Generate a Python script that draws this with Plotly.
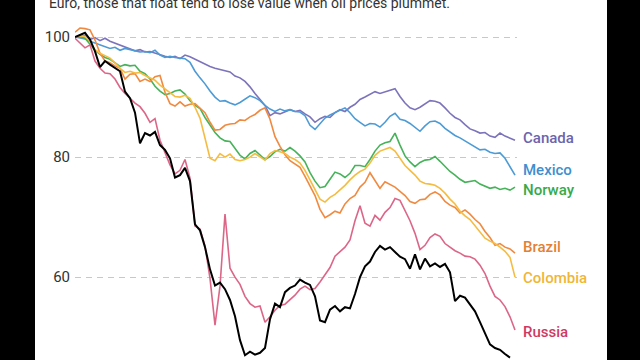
import plotly.graph_objects as go

# Index-based time axis (weekly-ish samples, no visible x labels)
canada = [100.0, 100.2, 100.3, 99.6, 99.9, 99.4, 99.8, 99.3, 99.0, 98.7, 98.4, 98.0, 97.7, 97.9, 97.5, 97.6, 97.3, 97.0,
          96.8, 96.6, 96.8, 96.4, 97.0, 96.7, 96.3, 95.8, 95.4, 95.1, 94.8, 94.6, 94.3, 94.2, 93.5, 93.2, 92.6, 91.7,
          90.6, 89.5, 88.6, 86.9, 87.4, 87.2, 87.6, 87.9, 87.6, 87.8, 87.2, 86.7, 85.8, 86.4, 86.8, 86.6, 87.4, 87.9,
          87.6, 88.3, 88.8, 89.6, 90.0, 90.4, 90.9, 90.6, 90.9, 91.2, 91.4, 90.1, 89.0, 88.2, 87.9, 88.3, 88.9, 89.4,
          89.3, 89.0, 88.2, 87.3, 86.6, 86.2, 85.4, 84.7, 84.4, 84.0, 84.1, 83.5, 83.3, 84.0, 83.5, 83.1, 82.8]
mexico = [100.0, 99.9, 99.7, 99.3, 99.0, 98.7, 98.4, 98.1, 98.3, 97.8, 98.1, 97.9, 97.7, 97.5, 97.6, 97.4, 97.8, 97.0,
          96.6, 96.8, 96.6, 96.5, 96.4, 95.8, 94.3, 93.2, 92.2, 91.0, 90.0, 89.3, 89.4, 89.0, 88.7, 89.1, 89.7, 90.2,
          89.9, 89.4, 88.6, 88.0, 87.6, 88.0, 87.7, 87.9, 87.6, 87.5, 86.9, 85.3, 84.6, 85.6, 86.5, 87.0, 87.4, 87.8,
          88.2, 87.4, 86.4, 85.8, 85.2, 85.6, 85.5, 85.0, 85.8, 86.8, 87.3, 86.3, 86.1, 85.6, 84.9, 84.3, 85.2, 85.9,
          86.0, 85.6, 84.8, 84.2, 83.6, 83.2, 82.7, 82.1, 81.6, 81.2, 81.3, 80.8, 80.6, 80.7, 79.8, 78.5, 77.0]
norway = [100.0, 100.1, 99.8, 98.8, 97.8, 97.1, 96.6, 96.3, 95.7, 95.1, 95.4, 95.2, 95.3, 94.3, 93.9, 93.0, 91.8, 91.0,
          90.4, 90.6, 91.0, 91.2, 90.5, 89.4, 88.6, 88.1, 86.6, 85.3, 84.1, 83.2, 82.7, 82.6, 81.4, 80.3, 79.7, 80.6,
          81.1, 80.3, 79.6, 80.1, 80.9, 81.3, 81.0, 81.6, 81.0, 80.2, 79.2, 77.4, 76.0, 74.9, 75.1, 76.3, 77.5, 77.2,
          76.6, 77.3, 78.6, 78.6, 78.4, 79.6, 81.0, 82.0, 82.4, 82.6, 84.0, 82.0, 80.2, 79.2, 78.4, 79.1, 79.5, 79.6,
          80.1, 79.3, 78.4, 77.6, 77.0, 76.3, 75.8, 75.9, 76.1, 75.5, 75.1, 74.8, 75.0, 74.6, 74.8, 74.5, 75.0]
brazil = [100.8, 101.5, 101.4, 101.2, 99.5, 97.3, 96.0, 95.7, 95.2, 94.8, 93.0, 93.8, 93.9, 92.6, 93.0, 92.6, 93.4, 93.6,
          90.8, 88.9, 88.5, 89.2, 88.5, 88.8, 88.9, 88.2, 87.4, 85.8, 84.5, 84.6, 85.3, 85.5, 85.6, 86.2, 86.1, 86.7,
          87.1, 87.8, 88.2, 86.3, 83.4, 81.8, 80.4, 79.4, 78.8, 78.3, 76.8, 75.1, 73.6, 71.3, 69.9, 70.4, 71.0, 70.7,
          72.2, 73.1, 73.6, 75.0, 75.8, 77.4, 76.0, 74.8, 75.9, 75.4, 75.0, 74.3, 73.6, 72.6, 72.3, 72.9, 73.0, 73.8,
          74.2, 73.7, 72.6, 72.0, 71.6, 70.7, 71.2, 70.5, 69.6, 68.9, 67.6, 66.6, 65.3, 65.6, 65.0, 64.7, 64.0]
colombia = [100.0, 100.2, 100.1, 99.3, 97.9, 97.3, 96.9, 96.5, 95.7, 94.8, 94.1, 94.3, 94.0, 94.1, 93.6, 93.2, 92.8, 92.0,
            91.4, 90.8, 90.1, 90.0, 90.3, 89.8, 88.3, 86.5, 83.0, 79.8, 79.4, 80.6, 80.0, 80.5, 79.6, 79.4, 79.6, 80.0,
            80.6, 80.0, 79.5, 80.6, 81.1, 80.9, 80.6, 80.0, 79.6, 79.0, 77.8, 76.2, 74.6, 73.0, 72.5, 73.3, 73.8, 74.5,
            75.3, 76.2, 77.0, 77.6, 78.0, 79.0, 80.3, 81.0, 81.3, 81.6, 81.0, 79.8, 78.6, 77.8, 77.0, 76.0, 75.6, 75.5,
            75.3, 74.8, 74.0, 73.0, 72.2, 71.0, 70.2, 69.6, 68.6, 67.6, 66.5, 66.0, 65.6, 65.0, 64.3, 63.3, 60.0]
russia = [99.8, 99.0, 98.2, 98.7, 96.0, 94.8, 94.0, 93.9, 93.0, 91.6, 90.6, 89.8, 89.0, 88.4, 87.3, 85.8, 86.4, 82.8,
          80.8, 78.7, 77.2, 77.8, 79.6, 76.5, 68.5, 68.0, 65.2, 59.8, 52.0, 58.5, 70.5, 61.5, 60.0, 58.8, 56.8, 55.6,
          55.0, 55.2, 52.5, 53.4, 54.5, 55.3, 55.5, 56.2, 57.0, 58.0, 58.5, 57.9, 58.1, 59.2, 60.4, 61.6, 63.5, 64.3,
          65.0, 66.2, 69.4, 71.9, 69.0, 68.5, 70.3, 69.5, 70.8, 71.6, 73.1, 72.8, 71.0, 69.4, 67.3, 64.6, 65.3, 66.6,
          67.2, 66.8, 65.6, 65.0, 64.4, 64.0, 63.5, 63.4, 63.0, 62.0, 60.6, 58.5, 56.8, 56.2, 55.1, 53.4, 51.2]
black_series = [100.0, 100.4, 100.7, 99.6, 97.6, 95.0, 96.0, 95.4, 94.8, 94.3, 90.9, 89.8, 87.4, 82.3, 84.0, 83.6, 84.2,
                82.0, 81.2, 79.8, 76.6, 77.0, 78.2, 76.0, 68.8, 67.8, 65.0, 61.3, 58.6, 59.1, 58.0, 56.2, 53.5, 49.5,
                47.0, 47.6, 47.1, 47.4, 48.2, 53.0, 55.6, 55.0, 57.5, 58.2, 58.6, 59.6, 59.1, 58.7, 56.8, 52.8, 52.5,
                54.6, 55.2, 54.3, 55.0, 54.8, 57.2, 60.0, 61.8, 62.6, 64.2, 65.2, 64.6, 65.0, 64.2, 63.4, 63.0, 61.4,
                63.8, 61.3, 63.1, 61.8, 62.3, 61.7, 62.2, 60.8, 56.0, 56.9, 56.6, 55.4, 54.3, 52.5, 50.6, 48.8, 48.2,
                47.9, 47.2, 46.6]

names = ["Canada", "Mexico", "Norway", "Brazil", "Colombia", "Russia"]
series = [canada, mexico, norway, brazil, colombia, russia]
line_colors = ["#7c74bb", "#4d9bd6", "#46b259", "#f08a40", "#f5bc42", "#dc6688"]
text_colors = ["#6c64ad", "#3d8fd0", "#37aa4b", "#e47f35", "#f0b637", "#cf3a62"]
label_shift = [2, 5, -3, 6, -1, -2]

subtitle = "Euro, those that float tend to lose value when oil prices plummet."
tick_vals = [40, 60, 80, 100]

W, H = 640, 360
L, R = 75, 123
plot_w = W - L - R

fig = go.Figure()
for name, vals, col in zip(names, series, line_colors):
    fig.add_trace(go.Scatter(x=list(range(len(vals))), y=vals, mode="lines", name=name,
                             line=dict(color=col, width=1.6), hoverinfo="skip"))
fig.add_trace(go.Scatter(x=list(range(len(black_series))), y=black_series, mode="lines",
                         line=dict(color="#000000", width=2), hoverinfo="skip"))

for name, vals, col, sh in zip(names, series, text_colors, label_shift):
    fig.add_annotation(x=len(vals) - 1, y=vals[-1], text=name, showarrow=False, xanchor="left",
                       yanchor="middle", xshift=6, yshift=sh,
                       font=dict(family="Roboto", size=15, color=col, weight=500))

fig.add_annotation(xref="paper", yref="paper", x=(47 - L) / plot_w, y=1 - 3 / H, text=subtitle,
                   showarrow=False, xanchor="left", yanchor="middle",
                   font=dict(family="Roboto", size=14, color="#333333"))

# white page area between black side bars
fig.add_shape(type="rect", xref="paper", yref="paper", x0=(35 - L) / plot_w, x1=(607 - L) / plot_w,
              y0=0, y1=1, fillcolor="white", line=dict(width=0), layer="below")

fig.update_layout(
    width=W, height=H, margin=dict(l=L, r=R, t=0, b=0),
    paper_bgcolor="black", plot_bgcolor="rgba(0,0,0,0)", showlegend=False,
    xaxis=dict(range=[0, 88.4], visible=False),
    yaxis=dict(range=[46.2, 106.17], tickvals=tick_vals, showgrid=True, gridcolor="#c8c8c8",
               griddash="6px,5px", gridwidth=1, zeroline=False, showline=False, ticks="",
               ticklabelstandoff=4, tickfont=dict(family="Roboto", size=15, color="#333333")),
)
fig.write_html("out.html", config={"displayModeBar": False, "staticPlot": True},
               post_script="document.body.style.margin='0';document.body.style.background='black';")
